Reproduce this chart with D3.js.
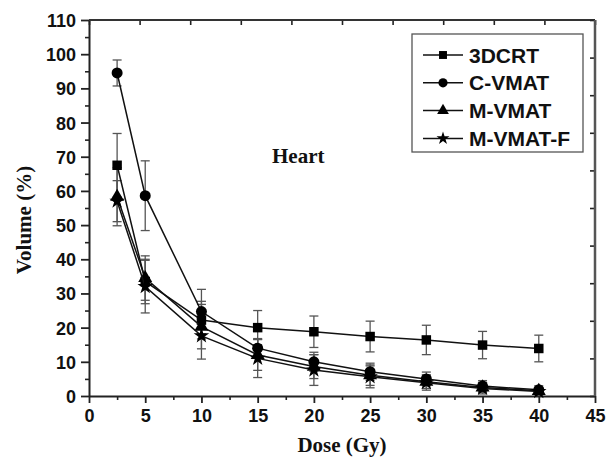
<!DOCTYPE html>
<html>
<head>
<meta charset="utf-8">
<script src="https://cdn.jsdelivr.net/npm/d3@7"></script>
<style>
  body { margin: 0; background: #fff; }
  svg { display: block; }
  .tick text { font-family: "Liberation Sans", Arial, sans-serif; font-weight: bold; font-size: 18px; fill: #111; }
</style>
</head>
<body>
<svg width="615" height="466"></svg>
<script>
// dose points (Gy)
const doses = [2.5, 5, 10, 15, 20, 25, 30, 35, 40];

const seriesNames = ["3DCRT", "C-VMAT", "M-VMAT", "M-VMAT-F"];
const crtValues    = [67.5, 33.5, 22.2, 20.0, 18.8, 17.4, 16.4, 14.9, 13.9];
const crtErr       = [9.3, 6.5, 5.5, 5.0, 4.6, 4.5, 4.3, 4.0, 3.9];
const cvmatValues  = [94.5, 58.6, 24.7, 14.0, 10.0, 7.1, 5.0, 2.9, 1.8];
const cvmatErr     = [3.8, 10.2, 6.5, 2.8, 2.8, 2.5, 2.0, 1.6, 1.2];
const mvmatValues  = [58.3, 34.5, 20.3, 12.0, 8.6, 6.1, 4.2, 2.5, 1.5];
const mvmatErr     = [8.5, 6.5, 6.5, 4.5, 3.5, 3.0, 2.0, 1.5, 1.0];
const mvmatfValues = [57.0, 32.0, 17.6, 11.0, 7.6, 5.6, 3.9, 2.2, 1.3];
const mvmatfErr    = [6.0, 7.7, 6.8, 5.6, 4.5, 3.2, 2.2, 1.6, 1.0];

const xTicks = [0, 5, 10, 15, 20, 25, 30, 35, 40, 45];
const yTicks = [0, 10, 20, 30, 40, 50, 60, 70, 80, 90, 100, 110];

const series = [
  {name: seriesNames[0], values: crtValues, err: crtErr, shape: d3.symbolSquare, size: 90},
  {name: seriesNames[1], values: cvmatValues, err: cvmatErr, shape: d3.symbolCircle, size: 95},
  {name: seriesNames[2], values: mvmatValues, err: mvmatErr, shape: d3.symbolTriangle, size: 85},
  {name: seriesNames[3], values: mvmatfValues, err: mvmatfErr, shape: d3.symbolStar, size: 75}
];

const svg = d3.select("svg");
const margin = {top: 20, right: 20, bottom: 70, left: 89};
const innerWidth = 615 - margin.left - margin.right;
const innerHeight = 466 - margin.top - margin.bottom;

const x = d3.scaleLinear().domain([0, 45]).range([0, innerWidth]);
const y = d3.scaleLinear().domain([0, 110]).range([innerHeight, 0]);

const g = svg.append("g")
  .attr("transform", "translate(" + margin.left + "," + margin.top + ")");

// plain tick marks, no labels
const tickMarks = (a) => {
  a.select(".domain").remove();
  a.selectAll(".tick text").remove();
  a.selectAll("line").attr("stroke", "#222").attr("stroke-width", 1.6);
};

// minor ticks
g.append("g")
  .attr("transform", "translate(0," + innerHeight + ")")
  .call(d3.axisBottom(x).tickValues(d3.range(2.5, 45, 5)).tickSize(4))
  .call(tickMarks);

g.append("g")
  .call(d3.axisLeft(y).tickValues(d3.range(5, 110, 10)).tickSize(4))
  .call(tickMarks);

// main axes
const xAxisG = g.append("g")
  .attr("transform", "translate(0," + innerHeight + ")")
  .call(d3.axisBottom(x).tickValues(xTicks).tickSize(7).tickPadding(6).tickSizeOuter(0));
xAxisG.select(".domain").attr("stroke", "#222").attr("stroke-width", 2);
xAxisG.selectAll(".tick line").attr("stroke", "#222").attr("stroke-width", 1.8);

const yAxisG = g.append("g")
  .call(d3.axisLeft(y).tickValues(yTicks).tickSize(8).tickPadding(5).tickSizeOuter(0));
yAxisG.select(".domain").attr("stroke", "#222").attr("stroke-width", 2);
yAxisG.selectAll(".tick line").attr("stroke", "#222").attr("stroke-width", 1.8);
yAxisG.selectAll(".tick text").attr("dy", "0.36em");

// mirror axes top / right (own tick spacing, no labels)
const xTop = d3.scaleLinear().domain([0, 10]).range([0, innerWidth]);
const yRight = d3.scaleLinear().domain([0, 10]).range([innerHeight, 0]);

g.append("g")
  .call(d3.axisBottom(xTop).ticks(10).tickSize(5))
  .call(tickMarks);
g.append("line").attr("x1", 0).attr("x2", innerWidth).attr("y1", 0).attr("y2", 0)
  .attr("stroke", "#333").attr("stroke-width", 2);

g.append("g")
  .attr("transform", "translate(" + innerWidth + ",0)")
  .call(d3.axisLeft(yRight).ticks(10).tickSize(5))
  .call(tickMarks);
g.append("line").attr("x1", innerWidth).attr("x2", innerWidth).attr("y1", 0).attr("y2", innerHeight)
  .attr("stroke", "#555").attr("stroke-width", 2.5);

// error bars
series.forEach(s => {
  const eb = g.append("g").attr("stroke", "#555").attr("stroke-width", 1.3);
  doses.forEach((d, i) => {
    const cx = x(d), top = y(s.values[i] + s.err[i]), bot = y(s.values[i] - s.err[i]);
    eb.append("line").attr("x1", cx).attr("x2", cx).attr("y1", top).attr("y2", bot);
    eb.append("line").attr("x1", cx - 4.5).attr("x2", cx + 4.5).attr("y1", top).attr("y2", top);
    eb.append("line").attr("x1", cx - 4.5).attr("x2", cx + 4.5).attr("y1", bot).attr("y2", bot);
  });
});

// lines and markers
const line = d3.line().x((d, i) => x(doses[i])).y(d => y(d));
series.forEach(s => {
  g.append("path")
    .datum(s.values)
    .attr("fill", "none")
    .attr("stroke", "#111")
    .attr("stroke-width", 1.5)
    .attr("d", line);
  g.selectAll(null)
    .data(s.values)
    .enter().append("path")
    .attr("transform", (d, i) => "translate(" + x(doses[i]) + "," + y(d) + ")")
    .attr("d", d3.symbol().type(s.shape).size(s.size))
    .attr("fill", "#000");
});

// legend
const legend = svg.append("g");
legend.append("rect")
  .attr("x", 412).attr("y", 34).attr("width", 171).attr("height", 118)
  .attr("fill", "#fff").attr("stroke", "#555").attr("stroke-width", 1.3);
series.forEach((s, i) => {
  const ly = 55 + i * 27.8;
  legend.append("line").attr("x1", 423).attr("x2", 463).attr("y1", ly).attr("y2", ly)
    .attr("stroke", "#111").attr("stroke-width", 1.5);
  legend.append("path").attr("transform", "translate(443," + ly + ")")
    .attr("d", d3.symbol().type(s.shape).size(s.size * 0.7)).attr("fill", "#000");
  legend.append("text").attr("x", 469).attr("y", ly).attr("dy", "0.36em")
    .attr("font-family", "Liberation Sans, Arial, sans-serif").attr("font-weight", "bold")
    .attr("font-size", 21).attr("fill", "#111").text(s.name);
});

// labels
svg.append("text")
  .attr("x", 272).attr("y", 163)
  .attr("font-family", "Liberation Serif, Times New Roman, serif").attr("font-weight", "bold")
  .attr("font-size", 21).attr("fill", "#111").text("Heart");

svg.append("text")
  .attr("x", margin.left + innerWidth / 2).attr("y", 452)
  .attr("text-anchor", "middle")
  .attr("font-family", "Liberation Serif, Times New Roman, serif").attr("font-weight", "bold")
  .attr("font-size", 21).attr("fill", "#111").text("Dose (Gy)");

svg.append("text")
  .attr("transform", "translate(31,220) rotate(-90)")
  .attr("text-anchor", "middle")
  .attr("font-family", "Liberation Serif, Times New Roman, serif").attr("font-weight", "bold")
  .attr("font-size", 21).attr("fill", "#111").text("Volume (%)");
</script>
</body>
</html>
